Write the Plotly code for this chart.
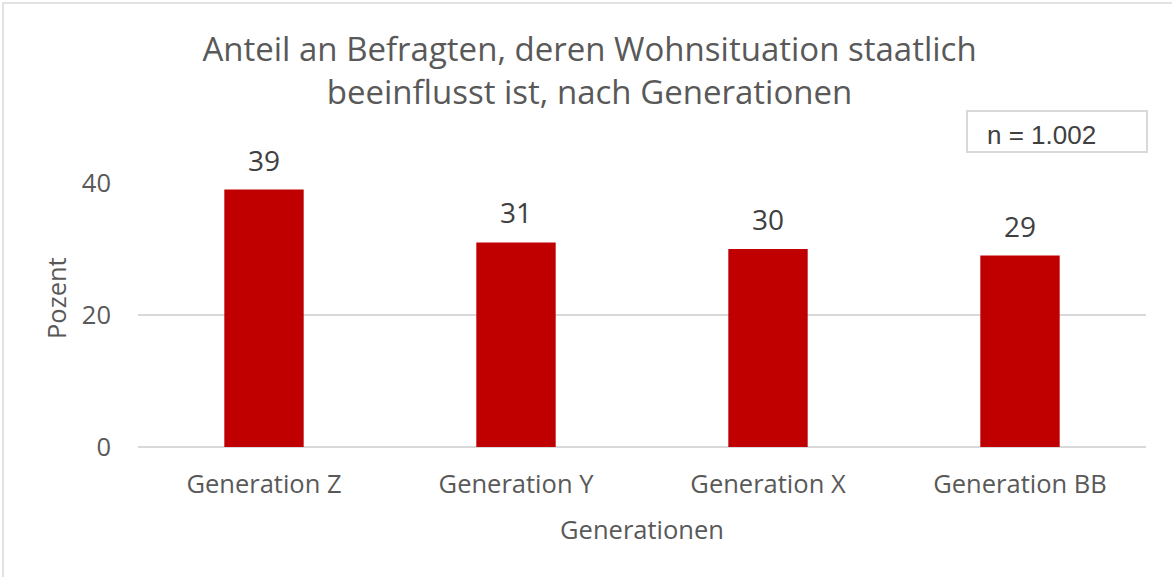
import plotly.graph_objects as go

categories = ["Generation Z", "Generation Y", "Generation X", "Generation BB"]
values = [39, 31, 30, 29]
y_ticks = [0, 20, 40]
title_text = "Anteil an Befragten, deren Wohnsituation staatlich<br>beeinflusst ist, nach Generationen"
n_text = "n = 1.002"
x_title = "Generationen"
y_title = "Pozent"

FONT = "Open Sans, Noto Sans, sans-serif"
GREY = "#595959"

fig = go.Figure(go.Bar(
    x=categories, y=values,
    marker=dict(color="#C00000", line=dict(width=0)),
    width=0.315,
    cliponaxis=False,
    hoverinfo="x+y",
))

label_annotations = [
    dict(x=c, y=v, xref="x", yref="y", text=str(v), showarrow=False,
         yanchor="middle", yshift=30,
         font=dict(family=FONT, size=28, color="#404040"))
    for c, v in zip(categories, values)
]

fig.update_layout(
    width=1172, height=577,
    margin=dict(l=138, r=26, t=183, b=130),
    paper_bgcolor="white", plot_bgcolor="white",
    showlegend=False,
    title=dict(text=title_text, x=0.503, xanchor="center",
               y=1 - 61 / 577, yanchor="middle",
               font=dict(family=FONT, size=33, color=GREY)),
    xaxis=dict(showgrid=False, showline=False, ticks="", ticklabelstandoff=19,
               tickfont=dict(family=FONT, size=25.5, color=GREY),
               title=dict(text=x_title, standoff=22,
                          font=dict(family=FONT, size=25.5, color=GREY))),
    yaxis=dict(range=[0, 40], tickvals=y_ticks, showgrid=True, gridcolor="#D9D9D9",
               gridwidth=1.5, zeroline=True, zerolinecolor="#D9D9D9", zerolinewidth=1.5,
               showline=False, ticks="", ticklabelstandoff=26,
               tickfont=dict(family=FONT, size=25.5, color=GREY)),
    shapes=[
        dict(type="rect", xref="paper", yref="paper",
             x0=(3 - 138) / 1008, x1=(1180 - 138) / 1008,
             y0=(447 - 590) / 264, y1=(447 - 3) / 264,
             line=dict(color="#D9D9D9", width=1.5), fillcolor="rgba(0,0,0,0)", layer="below"),
        dict(type="rect", xref="paper", yref="paper",
             x0=(967 - 138) / 1008, x1=(1147 - 138) / 1008,
             y0=(447 - 152) / 264, y1=(447 - 111) / 264,
             line=dict(color="#D9D9D9", width=2), fillcolor="white"),
    ],
    annotations=label_annotations + [
        dict(text=n_text, xref="paper", yref="paper",
             x=(985 - 138) / 1008, y=(447 - 135) / 264,
             xanchor="left", yanchor="middle", showarrow=False, align="left",
             font=dict(family="Liberation Sans, Arial, sans-serif", size=26, color="#404040")),
        dict(text=y_title, xref="paper", yref="paper",
             x=(56 - 138) / 1008, y=(447 - 298) / 264, textangle=-90,
             xanchor="center", yanchor="middle", showarrow=False,
             font=dict(family=FONT, size=25.5, color=GREY)),
    ],
)

fig.write_html("out.html", post_script="document.body.style.margin='0';",
               config={"displayModeBar": False})
